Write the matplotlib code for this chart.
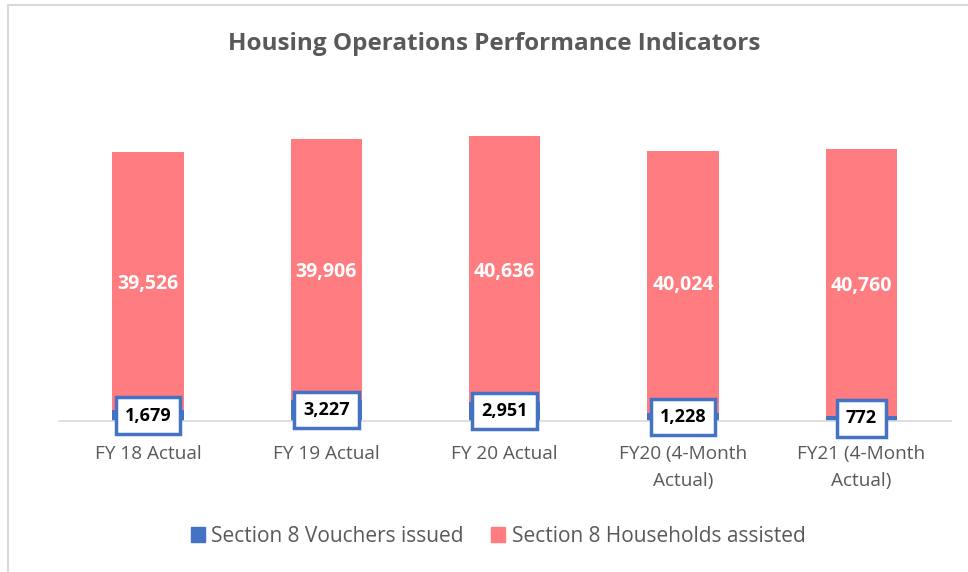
import numpy as np
import matplotlib
matplotlib.use("Agg")
import matplotlib.pyplot as plt
from matplotlib.patches import Patch

# dados
categorias = ["FY 18 Actual", "FY 19 Actual", "FY 20 Actual",
              "FY20 (4-Month\nActual)", "FY21 (4-Month\nActual)"]
vouchers = [1679, 3227, 2951, 1228, 772]
households = [39526, 39906, 40636, 40024, 40760]

azul = "#4472C4"
salmao = "#FF7C80"
cinza = "#595959"

plt.rcParams["font.family"] = ["Open Sans", "DejaVu Sans"]

fig = plt.figure(figsize=(9.68, 5.72), dpi=100)
ax = fig.add_axes([59 / 968, 151 / 572, 891.5 / 968, 327 / 572])

x = np.arange(len(categorias))
larg = 0.4
ax.bar(x, vouchers, larg, color=azul)
ax.bar(x, households, larg, bottom=vouchers, color=salmao)

ax.set_xlim(-0.5, len(categorias) - 0.5)
ax.set_ylim(0, 50000)
ax.set_yticks([])
for s in ["top", "right", "left"]:
    ax.spines[s].set_visible(False)
ax.spines["bottom"].set_color("#D9D9D9")
ax.spines["bottom"].set_linewidth(1.2)
ax.set_xticks(x)
ax.set_xticklabels(categorias, fontsize=13.7, color=cinza, linespacing=1.65)
ax.tick_params(axis="x", length=0, pad=17)

# rotulos das barras
for i in range(len(x)):
    ax.text(x[i], vouchers[i] + households[i] / 2 - 450, f"{households[i]:,}",
            ha="center", va="center", color="white", fontsize=14, fontweight="bold")
    ax.text(x[i], vouchers[i] / 2, f"{vouchers[i]:,}",
            ha="center", va="center", color="black", fontsize=13, fontweight="bold",
            bbox=dict(boxstyle="square,pad=0.5", fc="white", ec=azul, lw=2.5))

fig.text(494 / 968, 1 - 44 / 572, "Housing Operations Performance Indicators",
         ha="center", va="center", fontsize=17.5, fontweight="bold", color=cinza)

fig.legend(handles=[Patch(color=azul, label="Section 8 Vouchers issued"),
                    Patch(color=salmao, label="Section 8 Households assisted")],
           loc="center", bbox_to_anchor=(498 / 968, 1 - 536 / 572), ncol=2,
           frameon=False, fontsize=15, labelcolor=cinza, handlelength=0.7,
           handleheight=0.7, handletextpad=0.3, columnspacing=1.3)

# moldura do grafico (so esquerda e topo aparecem)
fig.add_artist(plt.Line2D([8 / 968, 8 / 968], [0, 1 - 5 / 572], color="#D9D9D9", lw=1.5))
fig.add_artist(plt.Line2D([8 / 968, 1], [1 - 5 / 572, 1 - 5 / 572], color="#D9D9D9", lw=1.5))

fig.savefig("out.png", dpi=100)
